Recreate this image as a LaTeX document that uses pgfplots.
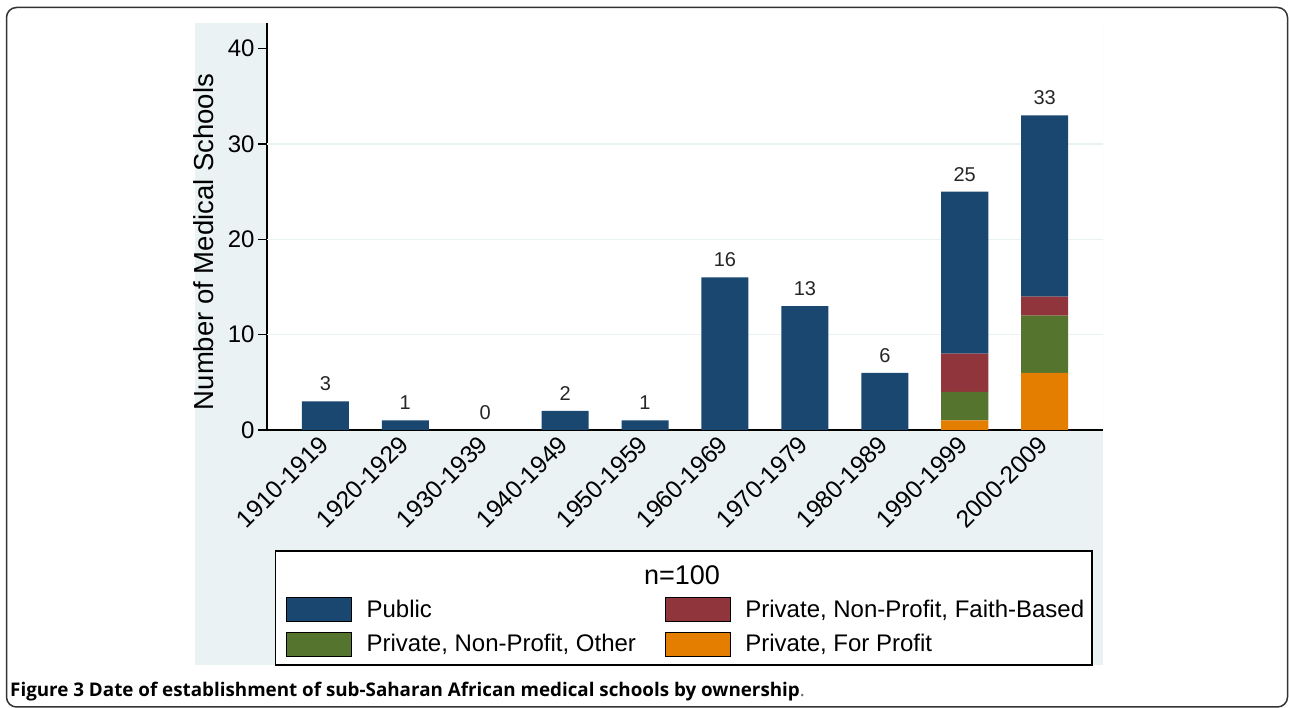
\documentclass[border=0pt]{standalone}
\usepackage{pgfplots}
\pgfplotsset{compat=1.18}
\usepackage{pgfplotstable}
\usepackage{fontspec}
\setmainfont{Liberation Sans}
\newfontfamily\capfont{Open Sans}
\definecolor{stnavy}{RGB}{26,71,111}
\definecolor{stmaroon}{RGB}{144,53,59}
\definecolor{stgreen}{RGB}{85,117,47}
\definecolor{storange}{RGB}{227,126,0}
\definecolor{bgcol}{RGB}{234,242,243}
\definecolor{gridcol}{RGB}{234,242,243}
\pgfplotstableread{
x public faith other forprofit total
0 3 0 0 0 3
1 1 0 0 0 1
2 0 0 0 0 0
3 2 0 0 0 2
4 1 0 0 0 1
5 16 0 0 0 16
6 13 0 0 0 13
7 6 0 0 0 6
8 17 4 3 1 25
9 19 2 6 6 33
}\datatable
\pgfplotsset{myaxis/.style={
  at={(267pt,278pt)}, anchor=south west,
  scale only axis, width=836pt, height=407pt,
  xmin=-0.73, xmax=9.73, ymin=0, ymax=42.7}}
\begin{document}
\begin{tikzpicture}[x=1pt,y=1pt]
\path[use as bounding box] (0,0) rectangle (1289,708);
\draw[line width=1.5pt, color=black!80, rounded corners=10pt] (6.5,1) rectangle (1287.5,700.5);
\fill[bgcol] (195,43) rectangle (1103,685);
\draw[line width=1.3pt, fill=white] (275.7,157) rectangle (1092,43);
\node[anchor=base, inner sep=0pt, font=\fontsize{27}{27}\selectfont] at (682,123) {n=100};
\node[anchor=base west, inner sep=0pt] at (10,11) {\capfont\fontsize{18.8}{18.8}\selectfont\bfseries Figure 3 Date of establishment of sub-Saharan African medical schools by ownership\mdseries\color{black!60}.};
\begin{axis}[
  myaxis,
  axis background/.style={fill=white},
  axis lines*=left,
  axis line style={line width=1.4pt, black},
  ybar stacked, bar width=47pt,
  xtick={0,...,9},
  xticklabels={1910-1919,1920-1929,1930-1939,1940-1949,1950-1959,1960-1969,1970-1979,1980-1989,1990-1999,2000-2009},
  xtick style={draw=none},
  x tick label style={rotate=45, anchor=east, inner sep=2pt, font=\fontsize{24.5}{24.5}\selectfont},
  ytick={0,10,20,30,40},
  tick align=outside,
  major tick length=9pt,
  ytick style={line width=1.2pt, black},
  y tick label style={font=\fontsize{24}{24}\selectfont, /pgf/number format/assume math mode=true},
  extra y ticks={10,20,30},
  extra y tick labels={},
  extra y tick style={grid=major, major tick length=0pt},
  major grid style={color=gridcol, line width=1.5pt},
  ylabel={Number of Medical Schools},
  ylabel style={at={(axis description cs:-0.0754,0.462)}, anchor=center, font=\fontsize{27.5}{27.5}\selectfont},
  legend columns=2,
  legend cell align=left,
  legend image code/.code={\fill[#1] (0pt,-12pt) rectangle (65pt,12pt);},
  legend style={at={(axis description cs:0.0227,-0.4103)}, anchor=north west,
    draw=none, fill=none, inner sep=0pt, column sep=0pt, row sep=10pt,
    font=\fontsize{24}{24}\selectfont,
    nodes={inner sep=0pt},
    /tikz/every odd column/.append style={column sep=15pt},
    /tikz/every even column/.append style={column sep=29pt}},
]
\addlegendimage{fill=stnavy}\addlegendentry{Public}
\addlegendimage{fill=stmaroon}\addlegendentry{Private, Non-Profit, Faith-Based}
\addlegendimage{fill=stgreen}\addlegendentry{Private, Non-Profit, Other}
\addlegendimage{fill=storange}\addlegendentry{Private, For Profit}
\addplot[fill=storange, draw=none] table[x=x, y=forprofit] {\datatable};
\addplot[fill=stgreen, draw=none] table[x=x, y=other] {\datatable};
\addplot[fill=stmaroon, draw=none] table[x=x, y=faith] {\datatable};
\addplot[fill=stnavy, draw=none] table[x=x, y=public] {\datatable};
\draw[gridcol, line width=1pt] (rel axis cs:1,0) -- (rel axis cs:1,1);
\end{axis}
\begin{axis}[myaxis, hide axis]
\addplot[draw=none, mark=none,
  nodes near coords={\pgfmathprintnumber{\pgfplotspointmeta}},
  point meta=y,
  every node near coord/.append style={anchor=base, inner sep=0pt, yshift=10.5pt, font=\fontsize{20}{20}\selectfont, text=black!85, /pgf/number format/assume math mode=true},
] table[x=x, y=total] {\datatable};
\end{axis}
\end{tikzpicture}
\end{document}
